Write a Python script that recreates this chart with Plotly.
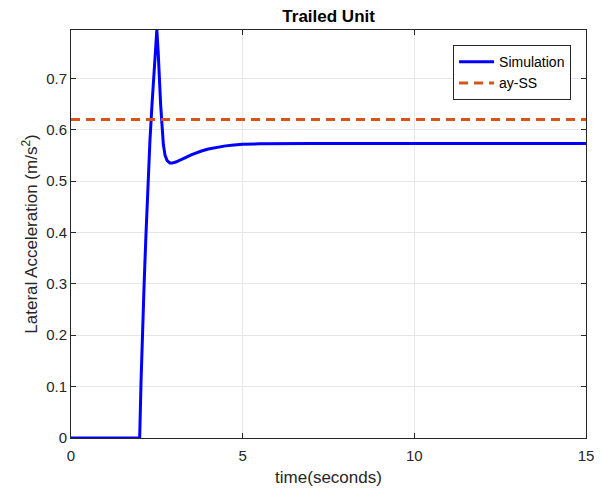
import plotly.graph_objects as go

# Simulated lateral acceleration of the trailed unit
time_s = [0, 2.0, 2.04, 2.08, 2.13, 2.18, 2.24, 2.30, 2.36, 2.42, 2.47, 2.50,
          2.54, 2.57, 2.61, 2.64, 2.69, 2.74, 2.80, 2.88, 2.95, 3.05, 3.2,
          3.35, 3.5, 3.65, 3.8, 4.0, 4.25, 4.5, 4.75, 5.0, 5.5, 6.0, 7.0,
          8.0, 10.0, 12.0, 15.0]
accel = [0, 0, 0.11, 0.21, 0.30, 0.39, 0.49, 0.58, 0.65, 0.72, 0.77, 0.794,
         0.75, 0.70, 0.65, 0.62, 0.571, 0.550, 0.540, 0.535, 0.535, 0.537, 0.541,
         0.546, 0.551, 0.555, 0.5585, 0.5625, 0.566, 0.5685, 0.570, 0.5715, 0.5725, 0.573, 0.573,
         0.573, 0.573, 0.573, 0.573]

# Steady-state lateral acceleration
ay_ss = 0.62
x_span = [0, 15]

x_ticks = [0, 5, 10, 15]
y_ticks = [0, 0.1, 0.2, 0.3, 0.4, 0.5, 0.6, 0.7]

font_family = "Liberation Sans, Arial, sans-serif"
text_color = "#262626"

fig = go.Figure()
fig.add_trace(go.Scatter(
    x=time_s, y=accel, mode="lines", name="Simulation",
    line=dict(color="#0000FF", width=3),
))
fig.add_trace(go.Scatter(
    x=x_span, y=[ay_ss, ay_ss], mode="lines", name="ay-SS",
    line=dict(color="#D95319", width=3, dash="9px,6px"),
))

axis_common = dict(
    showline=True, linecolor="#262626", linewidth=1, mirror="ticks",
    ticks="inside", ticklen=5, tickcolor="#262626",
    showgrid=True, gridcolor="#E6E6E6", gridwidth=1,
    zeroline=False, automargin=False,
    tickfont=dict(family=font_family, size=15, color=text_color),
)

fig.update_layout(
    width=603, height=493,
    margin=dict(l=71, r=17, t=30, b=55),
    paper_bgcolor="white", plot_bgcolor="white",
    title=dict(text="<b>Trailed Unit</b>", x=0.545, xanchor="center",
               y=0.967, yanchor="middle",
               font=dict(family=font_family, size=17, color="black")),
    xaxis=dict(range=[0, 15], tickvals=x_ticks, ticktext=[str(v) for v in x_ticks],
               ticklabelstandoff=4,
               title=dict(text="time(seconds)", standoff=8,
                          font=dict(family=font_family, size=17, color=text_color)),
               **axis_common),
    yaxis=dict(range=[0, 0.794], tickvals=y_ticks,
               ticktext=["0" if v == 0 else f"{v:.1f}" for v in y_ticks],
               title=dict(text="Lateral Acceleration (m/s<sup>2</sup>)", standoff=4,
                          font=dict(family=font_family, size=17, color=text_color)),
               **axis_common),
    legend=dict(x=0.971, xanchor="right", y=0.963, yanchor="top",
                bgcolor="white", bordercolor="#262626", borderwidth=1,
                font=dict(family=font_family, size=14, color="black"),
                tracegroupgap=0, itemwidth=35),
    showlegend=True,
)

fig.write_html("out.html")
